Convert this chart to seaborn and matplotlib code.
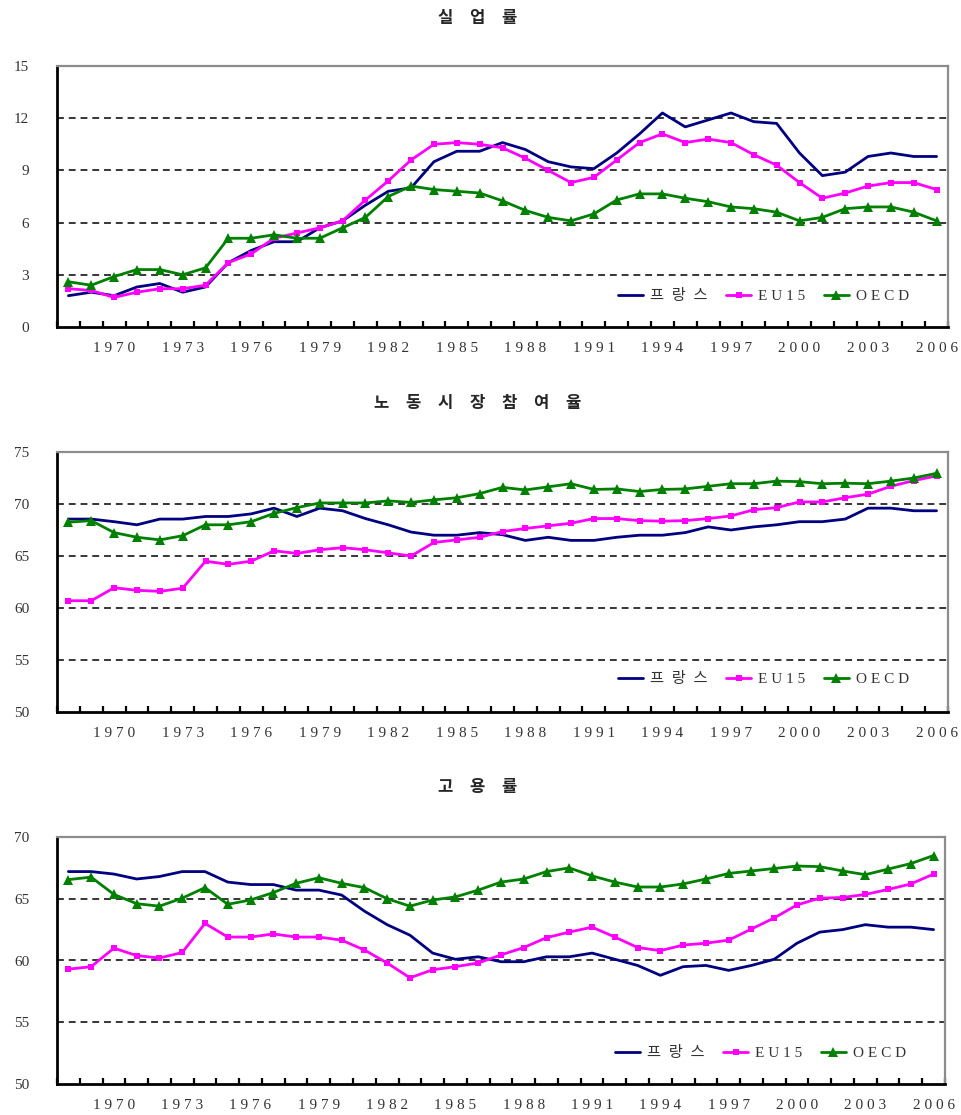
import numpy as np
import pandas as pd
import matplotlib
matplotlib.use("Agg")
import matplotlib.pyplot as plt
import seaborn as sns

# ---- data -------------------------------------------------------------
years = list(range(1968, 2007))
label_years = [1970, 1973, 1976, 1979, 1982, 1985, 1988, 1991, 1994, 1997, 2000, 2003, 2006]
series_labels = ["프  랑  스", "E U 1 5", "O E C D"]
panel_titles = ["실\u3000업\u3000률", "노\u3000동\u3000시\u3000장\u3000참\u3000여\u3000율", "고\u3000용\u3000률"]

# unemployment rate
unemp_france = [1.8, 2.0, 1.8, 2.3, 2.5, 2.0, 2.3, 3.7, 4.4, 4.9, 4.9, 5.7, 6.1, 7.0, 7.8, 8.0,
                9.5, 10.1, 10.1, 10.6, 10.2, 9.5, 9.2, 9.1, 10.0, 11.1, 12.3, 11.5, 11.9, 12.3,
                11.8, 11.7, 10.0, 8.7, 8.9, 9.8, 10.0, 9.8, 9.8]
unemp_eu15 = [2.2, 2.1, 1.7, 2.0, 2.2, 2.2, 2.4, 3.7, 4.2, 5.1, 5.4, 5.7, 6.1, 7.3, 8.4, 9.6,
              10.5, 10.6, 10.5, 10.3, 9.7, 9.0, 8.3, 8.6, 9.6, 10.6, 11.1, 10.6, 10.8, 10.6,
              9.9, 9.3, 8.3, 7.4, 7.7, 8.1, 8.3, 8.3, 7.9]
unemp_oecd = [2.6, 2.4, 2.9, 3.3, 3.3, 3.0, 3.4, 5.1, 5.1, 5.3, 5.1, 5.1, 5.7, 6.3, 7.5, 8.1,
              7.9, 7.8, 7.7, 7.25, 6.7, 6.3, 6.1, 6.5, 7.3, 7.65, 7.65, 7.4, 7.2, 6.9,
              6.8, 6.6, 6.1, 6.3, 6.8, 6.9, 6.9, 6.6, 6.1]

# labour force participation rate
part_france = [68.55, 68.55, 68.3, 68.0, 68.55, 68.55, 68.8, 68.8, 69.05, 69.6, 68.8, 69.6, 69.35,
               68.6, 68.0, 67.3, 67.0, 67.0, 67.25, 67.05, 66.5, 66.8, 66.5, 66.5, 66.8, 67.0,
               67.0, 67.25, 67.8, 67.5, 67.8, 68.0, 68.3, 68.3, 68.55, 69.6, 69.6, 69.35, 69.35]
part_eu15 = [60.7, 60.7, 61.95, 61.7, 61.6, 61.9, 64.5, 64.2, 64.5, 65.5, 65.25, 65.6, 65.8,
             65.6, 65.3, 65.0, 66.3, 66.55, 66.8, 67.35, 67.65, 67.9, 68.15, 68.6, 68.6, 68.4,
             68.35, 68.4, 68.6, 68.85, 69.45, 69.65, 70.2, 70.2, 70.6, 70.95, 71.7, 72.25, 72.7]
part_oecd = [68.25, 68.4, 67.25, 66.8, 66.55, 66.95, 68.0, 68.0, 68.3, 69.1, 69.65, 70.1, 70.1,
             70.1, 70.3, 70.15, 70.4, 70.6, 71.0, 71.6, 71.35, 71.65, 71.95, 71.4, 71.45, 71.2,
             71.4, 71.45, 71.7, 71.95, 71.95, 72.2, 72.15, 71.95, 72.0, 71.95, 72.2, 72.5, 72.95]

# employment rate
emp_france = [67.2, 67.2, 67.0, 66.6, 66.8, 67.2, 67.2, 66.35, 66.15, 66.15, 65.7, 65.7, 65.3,
              64.0, 62.9, 62.05, 60.6, 60.1, 60.3, 59.9, 59.9, 60.3, 60.3, 60.6, 60.1, 59.6,
              58.8, 59.5, 59.6, 59.2, 59.6, 60.1, 61.4, 62.3, 62.5, 62.9, 62.7, 62.7, 62.5]
emp_eu15 = [59.3, 59.5, 61.0, 60.4, 60.2, 60.65, 63.0, 61.9, 61.9, 62.15, 61.9, 61.9, 61.65,
            60.85, 59.8, 58.6, 59.25, 59.5, 59.8, 60.45, 61.05, 61.85, 62.3, 62.7, 61.9, 61.05,
            60.8, 61.25, 61.4, 61.65, 62.55, 63.45, 64.5, 65.05, 65.1, 65.35, 65.75, 66.2, 67.0]
emp_oecd = [66.55, 66.75, 65.35, 64.6, 64.4, 65.05, 65.9, 64.55, 64.9, 65.5, 66.25, 66.7, 66.25,
            65.9, 65.0, 64.4, 64.9, 65.15, 65.7, 66.35, 66.6, 67.2, 67.5, 66.85, 66.35, 65.95,
            65.95, 66.2, 66.6, 67.05, 67.25, 67.45, 67.65, 67.6, 67.25, 66.95, 67.4, 67.85, 68.5]

y_ranges = [(0, 15, 3), (50, 75, 5), (50, 70, 5)]
panels = [
    (unemp_france, unemp_eu15, unemp_oecd),
    (part_france, part_eu15, part_oecd),
    (emp_france, emp_eu15, emp_oecd),
]

# ---- styling ------------------------------------------------------------
sns.set_style("white")
plt.rcParams["font.family"] = ["Liberation Serif", "Noto Sans CJK KR", "DejaVu Sans"]

colors = ["#000080", "#FF00FF", "#008000"]
markers = [None, "s", "^"]
msizes = [0, 4.3, 7.5]
tick_color = "#333333"

W, H = 962, 1115
fig = plt.figure(figsize=(W / 100, H / 100), dpi=100)

# axes boxes in pixels: left, top, right, bottom
boxes = [(57, 66, 948, 327), (57, 452, 948, 712), (57, 837, 945, 1084)]
title_y = [18, 403, 787]

for k, (box, data, yr, ty, title) in enumerate(zip(boxes, panels, y_ranges, title_y, panel_titles)):
    l, t, r, b = box
    ax = fig.add_axes([l / W, 1 - b / H, (r - l) / W, (b - t) / H])

    long = pd.DataFrame({
        "year": years * 3,
        "value": list(data[0]) + list(data[1]) + list(data[2]),
        "series": sum([[s] * len(years) for s in series_labels], []),
    })
    for name, col, mk, ms in zip(series_labels, colors, markers, msizes):
        sub = long[long["series"] == name]
        sns.lineplot(data=sub, x="year", y="value", ax=ax, color=col, linewidth=2.0,
                     marker=mk, markersize=ms, markeredgewidth=0, label=name, zorder=3)

    lo, hi, step = yr
    ax.set_ylim(lo, hi)
    ax.set_yticks(np.arange(lo, hi + 0.01, step))
    ax.set_yticklabels([f"{v:g}" for v in np.arange(lo, hi + 0.01, step)],
                       fontsize=11, color=tick_color)
    ax.tick_params(axis="y", length=0, pad=20)

    ax.set_xlim(years[0] - 0.5, years[-1] + 0.5)
    ax.set_xticks(label_years)
    ax.set_xticklabels([" ".join(str(y)) for y in label_years], fontsize=11, color=tick_color)
    ax.set_xticks(np.arange(years[0] - 0.5, years[-1] + 0.51, 1), minor=True)
    ax.tick_params(axis="x", which="major", length=0, pad=11)
    ax.tick_params(axis="x", which="minor", direction="in", length=4, width=1.6,
                   color="black", bottom=True)

    ax.set_xlabel("")
    ax.set_ylabel("")

    ax.yaxis.grid(True, color="black", linestyle=(0, (4.5, 3.2)), linewidth=1.1)
    ax.xaxis.grid(False)
    ax.set_axisbelow(True)
    gl = ax.yaxis.get_gridlines()
    gl[0].set_visible(False)
    gl[-1].set_visible(False)

    for side in ["left", "bottom"]:
        ax.spines[side].set_color("black")
        ax.spines[side].set_linewidth(2.0)
    for side in ["top", "right"]:
        ax.spines[side].set_color("#8c8c8c")
        ax.spines[side].set_linewidth(1.6)

    leg_y = [(327 - 296) / 261, (712 - 679) / 260, (1084 - 1053) / 247][k]
    ax.legend(loc="center right", bbox_to_anchor=(0.956, leg_y), ncol=3, frameon=False,
              fontsize=11, handlelength=1.65, handletextpad=0.45, columnspacing=1.2,
              borderaxespad=0, borderpad=0, labelcolor=tick_color)

    fig.text(478 / W, 1 - ty / H, title, ha="center", va="center", fontsize=12,
             fontweight="bold", family=["Noto Sans CJK KR", "DejaVu Sans"])

fig.savefig("out.png", dpi=100)
